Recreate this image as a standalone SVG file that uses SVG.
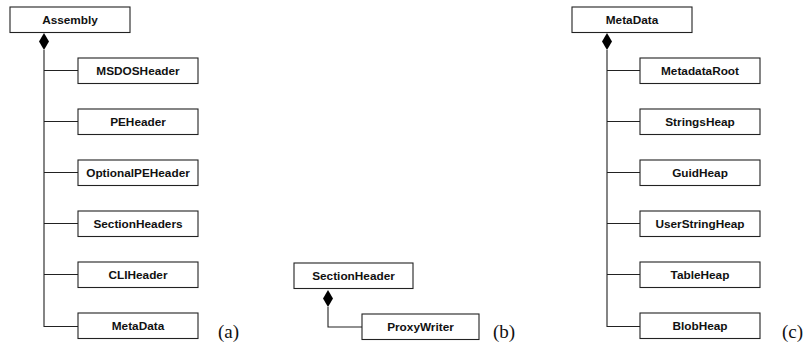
<svg xmlns="http://www.w3.org/2000/svg" width="805" height="344" viewBox="0 0 805 344">
<style>
rect.n{fill:#fff;stroke:#222;stroke-width:1.1}
text.t{font-family:"Liberation Sans",Arial,sans-serif;font-weight:bold;font-size:11.8px;fill:#111;text-anchor:middle}
text.c{font-family:"Liberation Serif","Times New Roman",serif;font-size:19px;fill:#111}
.e{fill:none;stroke:#222;stroke-width:1.1}
.d{fill:#000;stroke:none}
</style>
<rect width="805" height="344" fill="#fff"/>
<g id="connectors">
<path class="e" d="M44 50V327M44 70.5H78M44 121.5H78M44 172.5H78M44 223.5H78M44 274.5H78M44 326.5H78"/>
<path class="d" d="M44 33L49 41.5L44 50L39 41.5Z"/>
<path class="e" d="M328 307V327H362"/>
<path class="d" d="M328 290L333 298.5L328 307L323 298.5Z"/>
<path class="e" d="M607 50V327M607 70.5H640M607 121.5H640M607 172.5H640M607 223.5H640M607 274.5H640M607 326.5H640"/>
<path class="d" d="M607 33L612 41.5L607 50L602 41.5Z"/>
</g>
<g id="assembly"><rect class="n" x="10" y="7" width="120" height="25.5"/><text class="t" x="70" y="24">Assembly</text></g>
<g id="msdosheader"><rect class="n" x="78" y="58" width="120" height="25.5"/><text class="t" x="138" y="75">MSDOSHeader</text></g>
<g id="peheader"><rect class="n" x="78" y="109" width="120" height="25.5"/><text class="t" x="138" y="126">PEHeader</text></g>
<g id="optionalpeheader"><rect class="n" x="78" y="160" width="120" height="25.5"/><text class="t" x="138" y="177">OptionalPEHeader</text></g>
<g id="sectionheaders"><rect class="n" x="78" y="211" width="120" height="25.5"/><text class="t" x="138" y="228">SectionHeaders</text></g>
<g id="cliheader"><rect class="n" x="78" y="262" width="120" height="25.5"/><text class="t" x="138" y="279">CLIHeader</text></g>
<g id="metadata-a"><rect class="n" x="78" y="313" width="120" height="25.5"/><text class="t" x="138" y="330">MetaData</text></g>
<text class="c" x="218" y="338">(a)</text>
<g id="sectionheader"><rect class="n" x="294" y="263" width="119" height="25.5"/><text class="t" x="353.5" y="280">SectionHeader</text></g>
<g id="proxywriter"><rect class="n" x="362" y="314" width="117" height="25.5"/><text class="t" x="420.5" y="331">ProxyWriter</text></g>
<text class="c" x="493" y="338">(b)</text>
<g id="metadata"><rect class="n" x="572" y="7" width="120" height="25.5"/><text class="t" x="632" y="24">MetaData</text></g>
<g id="metadataroot"><rect class="n" x="640" y="58" width="120" height="25.5"/><text class="t" x="700" y="75">MetadataRoot</text></g>
<g id="stringsheap"><rect class="n" x="640" y="109" width="120" height="25.5"/><text class="t" x="700" y="126">StringsHeap</text></g>
<g id="guidheap"><rect class="n" x="640" y="160" width="120" height="25.5"/><text class="t" x="700" y="177">GuidHeap</text></g>
<g id="userstringheap"><rect class="n" x="640" y="211" width="120" height="25.5"/><text class="t" x="700" y="228">UserStringHeap</text></g>
<g id="tableheap"><rect class="n" x="640" y="262" width="120" height="25.5"/><text class="t" x="700" y="279">TableHeap</text></g>
<g id="blobheap"><rect class="n" x="640" y="313" width="120" height="25.5"/><text class="t" x="700" y="330">BlobHeap</text></g>
<text class="c" x="782" y="338">(c)</text>
</svg>
